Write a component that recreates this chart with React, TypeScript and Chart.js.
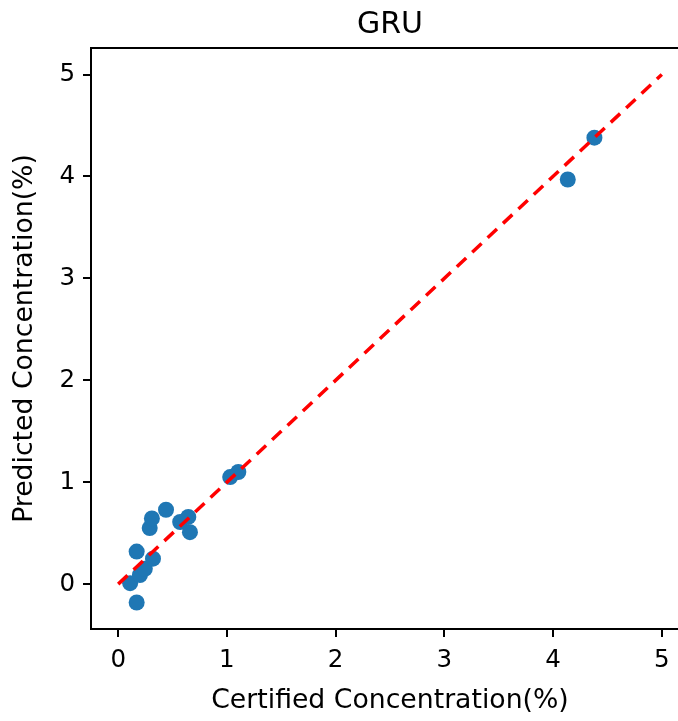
import React, { useEffect, useRef } from "react";
import { Chart, registerables } from "chart.js";

Chart.register(...registerables);

const chartTitle = "GRU";
const xLabel = "Certified Concentration(%)";
const yLabel = "Predicted Concentration(%)";

const certified = [0.17, 0.11, 0.2, 0.245, 0.32, 0.17, 0.29, 0.31, 0.44, 0.57, 0.645, 0.66, 1.03, 1.105, 4.135, 4.38];
const predicted = [-0.18, 0.01, 0.09, 0.15, 0.25, 0.32, 0.55, 0.645, 0.73, 0.61, 0.66, 0.51, 1.05, 1.1, 3.97, 4.38];

const idealX = [0, 5];
const idealY = [0, 5];

const xTicks = [0, 1, 2, 3, 4, 5];
const yTicks = [0, 1, 2, 3, 4, 5];

const FONT = "'DejaVu Sans', sans-serif";

export default function App() {
  const ref = useRef<HTMLCanvasElement>(null);

  useEffect(() => {
    if (!ref.current) return;

    const framePlugin = {
      id: "frameAndTitle",
      afterDraw(chart: any) {
        const { ctx, chartArea } = chart;
        ctx.save();
        ctx.strokeStyle = "#000";
        ctx.lineWidth = 2;
        ctx.beginPath();
        ctx.moveTo(chartArea.left, chartArea.bottom + 1);
        ctx.lineTo(chartArea.left, chartArea.top);
        ctx.moveTo(chartArea.left - 1, chartArea.top);
        ctx.lineTo(chartArea.right, chartArea.top);
        ctx.moveTo(chartArea.left - 1, chartArea.bottom);
        ctx.lineTo(chartArea.right, chartArea.bottom);
        ctx.stroke();
        ctx.fillStyle = "#000";
        ctx.font = `30px ${FONT}`;
        ctx.textAlign = "center";
        ctx.textBaseline = "alphabetic";
        ctx.fillText(chartTitle, (chartArea.left + chartArea.right) / 2, 33);
        ctx.restore();
      },
    };

    const chart = new Chart(ref.current, {
      type: "scatter",
      data: {
        datasets: [
          {
            type: "line",
            data: idealX.map((x, i) => ({ x, y: idealY[i] })),
            borderColor: "#ff0000",
            borderWidth: 3.5,
            borderDash: [12.8, 8.3],
            pointRadius: 0,
            fill: false,
            order: 0,
          } as any,
          {
            type: "scatter",
            data: certified.map((x, i) => ({ x, y: predicted[i] })),
            backgroundColor: "#1f77b4",
            borderWidth: 0,
            pointRadius: 8,
            order: 1,
          },
        ],
      },
      options: {
        animation: false,
        responsive: false,
        layout: { padding: { top: 48, right: 31, bottom: 0, left: 0 } },
        plugins: {
          legend: { display: false },
          tooltip: { enabled: false },
          title: { display: false },
        },
        scales: {
          x: {
            type: "linear",
            min: -0.25,
            max: 5.25,
            afterBuildTicks: (s: any) => {
              s.ticks = xTicks.map((v) => ({ value: v }));
            },
            afterFit: (s: any) => {
              s.height = 92;
            },
            ticks: {
              font: { family: FONT, size: 24.5 },
              color: "#000",
              padding: 9,
              maxRotation: 0,
              autoSkip: false,
            },
            grid: {
              drawOnChartArea: false,
              drawTicks: true,
              tickLength: 8,
              color: "#000",
              lineWidth: 2,
            },
            border: { display: false },
            title: {
              display: true,
              text: xLabel,
              color: "#000",
              font: { family: FONT, size: 26.7 },
              padding: { top: 0, bottom: 4 },
            },
          },
          y: {
            type: "linear",
            min: -0.44,
            max: 5.26,
            afterBuildTicks: (s: any) => {
              s.ticks = yTicks.map((v) => ({ value: v }));
            },
            afterFit: (s: any) => {
              s.width = 91;
            },
            ticks: {
              font: { family: FONT, size: 24.5 },
              color: "#000",
              padding: 8,
              autoSkip: false,
            },
            grid: {
              drawOnChartArea: false,
              drawTicks: true,
              tickLength: 8,
              color: "#000",
              lineWidth: 2,
            },
            border: { display: false },
            title: {
              display: true,
              text: yLabel,
              color: "#000",
              font: { family: FONT, size: 26.7 },
              padding: { top: 9, bottom: 0 },
            },
          },
        },
      },
      plugins: [framePlugin],
    });

    return () => chart.destroy();
  }, []);

  return (
    <div
      style={{
        position: "fixed",
        left: 0,
        top: 0,
        width: 678,
        height: 721,
        overflow: "hidden",
        background: "#fff",
      }}
    >
      <canvas ref={ref} width={720} height={721} style={{ display: "block" }} />
    </div>
  );
}
